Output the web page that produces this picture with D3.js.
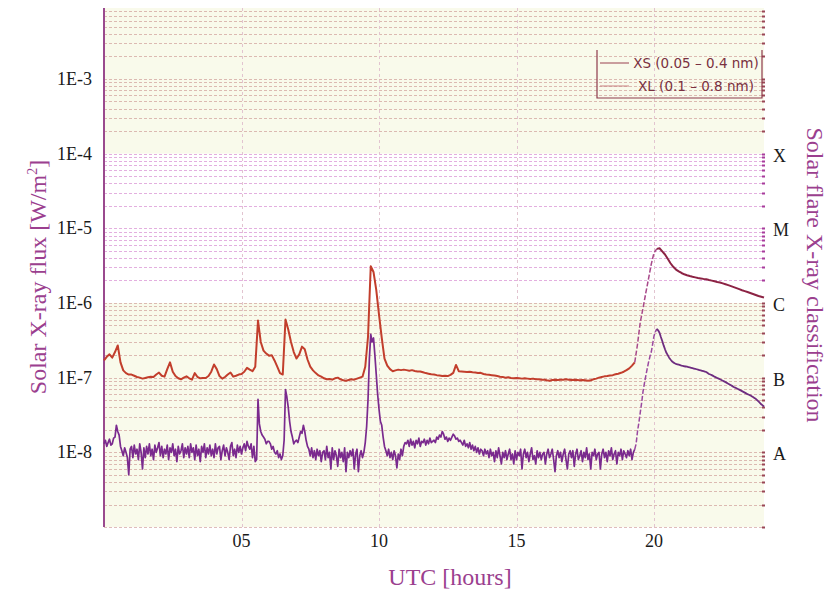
<!DOCTYPE html>
<html>
<head>
<meta charset="utf-8">
<script src="https://cdn.jsdelivr.net/npm/d3@7"></script>
<style>
  body { margin: 0; background: #fff; }
  svg { display: block; }
  .serif { font-family: "Liberation Serif", "Times New Roman", serif; }
</style>
</head>
<body>
<div id="chart"></div>
<script>
// flux in units of 1E-8 W/m2, sampled from 00 UTC
var fluxUnit = 1e-8;
var xsStep = 0.05; // hours
var xlStep = 0.1;  // hours

var xsFlux = [
    1.3, 1.45, 1.2, 1.35, 1.5, 1.25, 1.3, 1.55, 1.6, 2.3, 1.9, 1.7, 1.2, 1.05, 0.9, 1.15, 1.0, 0.85, 0.5, 1.1,
    1.2, 0.85, 1.25, 0.95, 1.1, 0.8, 1.3, 1.0, 0.6, 1.15, 0.85, 1.2, 0.95, 1.3, 0.9, 1.1, 0.8, 1.25, 1.0, 1.15,
    1.35, 0.9, 1.2, 0.85, 1.1, 0.95, 1.25, 0.8, 1.15, 1.0, 1.3, 0.9, 1.1, 0.75, 1.2, 0.95, 1.05, 1.3, 0.85, 1.15,
    0.95, 1.2, 0.85, 1.3, 1.0, 1.15, 0.8, 1.25, 0.9, 1.1, 0.75, 1.2, 1.0, 1.3, 0.85, 1.15, 0.95, 1.25, 0.9, 1.1,
    0.85, 1.3, 0.95, 1.15, 1.2, 0.8, 1.05, 1.25, 0.9, 1.15, 1.0, 0.8, 1.2, 1.35, 0.9, 1.1, 0.85, 1.25, 1.0, 1.2,
    0.95, 1.15, 1.3, 1.05, 1.4, 1.2, 1.1, 1.3, 0.85, 1.2, 0.75, 0.8, 5.1, 2.4, 1.9, 1.7, 1.6, 1.5, 1.3, 1.4,
    1.4, 1.3, 1.1, 1.2, 1.0, 0.95, 1.05, 0.85, 0.95, 0.8, 0.9, 1.45, 6.9, 5.5, 4.0, 2.6, 1.9, 1.6, 1.3, 1.4,
    1.45, 1.35, 1.6, 1.9, 1.8, 2.3, 1.9, 1.45, 1.2, 1.1, 0.9, 1.15, 0.85, 1.05, 0.8, 1.1, 0.9, 1.05, 0.75, 1.0,
    1.05, 0.8, 1.2, 0.85, 1.0, 0.6, 1.15, 0.8, 1.05, 0.9, 0.65, 1.1, 0.85, 1.0, 0.75, 1.15, 0.55, 1.0, 0.85, 1.05,
    0.9, 1.1, 0.6, 0.95, 1.1, 0.55, 0.9, 1.05, 0.85, 1.0, 1.35, 2.2, 5, 18, 38, 30, 34, 20, 11, 6,
    3.8, 2.6, 2.3, 1.6, 1.2, 1.05, 0.9, 1.1, 0.85, 1.0, 0.8, 1.05, 0.9, 0.62, 0.95, 0.8, 1.1, 0.9, 1.2, 1.35,
    1.3, 1.45, 1.2, 1.5, 1.25, 1.4, 1.15, 1.45, 1.3, 1.55, 1.2, 1.4, 1.35, 1.5, 1.25, 1.45, 1.3, 1.55, 1.35, 1.4,
    1.45, 1.35, 1.6, 1.5, 1.7, 1.6, 1.9, 1.75, 1.5, 1.6, 1.4, 1.55, 1.45, 1.6, 1.75, 1.65, 1.5, 1.55, 1.4, 1.45,
    1.35, 1.25, 1.45, 1.2, 1.3, 1.15, 1.35, 1.1, 1.25, 1.05, 1.2, 1.0, 1.15, 0.95, 1.1, 1.05, 0.9, 1.1, 0.95, 1.05,
    0.85, 1.1, 0.9, 1.0, 0.75, 1.05, 0.85, 1.15, 0.9, 0.7, 1.0, 0.85, 1.05, 0.8, 0.95, 1.1, 0.8, 0.95, 0.7, 1.05,
    0.8, 1.0, 0.9, 1.1, 0.6, 0.95, 1.1, 0.85, 1.0, 0.75, 0.95, 1.15, 0.8, 0.9, 0.7, 1.05, 0.85, 1.0, 0.8, 0.95,
    1.0, 0.7, 0.95, 1.1, 0.85, 0.95, 1.1, 0.8, 0.55, 0.9, 1.05, 0.85, 1.0, 0.75, 0.95, 1.1, 0.8, 0.6, 0.95, 1.05,
    0.85, 1.05, 0.65, 0.95, 1.1, 0.8, 0.9, 1.05, 0.75, 1.0, 0.85, 1.15, 0.8, 0.95, 0.6, 1.0, 0.9, 1.1, 0.8, 0.95,
    1.0, 0.6, 0.95, 1.1, 0.85, 1.0, 0.75, 1.05, 0.9, 1.15, 0.8, 0.95, 1.05, 0.7, 1.0, 0.9, 1.1, 0.8, 1.05, 0.95,
    0.85, 1.05, 0.9, 1.1, 0.8, 1.0, 1.1, 1.3, 1.9, 2.5, 3.4, 4.6, 6.5, 8.3, 10.5, 13, 16, 19, 22, 28,
    36, 41, 45, 43, 40, 35, 31, 27, 24, 21.5, 20, 18.5, 17.5, 16.6, 16, 15.6, 15.3, 15.1, 14.9, 14.7,
    14.5, 14.35, 14.2, 14.1, 14.0, 13.85, 13.7, 13.55, 13.4, 13.25, 13.1, 12.95, 12.8, 12.65, 12.5, 12.35, 12.2, 12.05, 11.9, 11.55,
    11.2, 11.0, 10.8, 10.55, 10.3, 10.1, 9.9, 9.7, 9.5, 9.3, 9.1, 8.9, 8.7, 8.5, 8.3, 8.1, 7.9, 7.7, 7.5, 7.35,
    7.2, 7.05, 6.9, 6.75, 6.6, 6.45, 6.3, 6.15, 6.0, 5.9, 5.8, 5.65, 5.5, 5.35, 5.2, 5.0, 4.8, 4.6, 4.4, 4.25,
    4.1
];

var xlFlux = [
    17, 19, 20.5, 18.5, 22, 27, 16, 12.5, 11.5, 11,
    11, 10.6, 10.2, 10, 9.7, 9.9, 10.1, 10.3, 10.2, 11,
    11.7, 10.6, 10.3, 13, 16, 12, 10.5, 9.8, 9.5, 10,
    10.4, 9.8, 9.4, 11.5, 10.2, 9.8, 9.9, 9.9, 10.5, 12,
    15, 13, 10.5, 9.7, 10.2, 11, 11.7, 10.3, 10.6, 11,
    11.2, 12, 13.5, 12.8, 12.2, 14, 58, 30, 23, 21,
    19.7, 20, 17, 14, 11.5, 11, 60, 44, 30, 22,
    18, 20.5, 26, 24, 17.5, 14, 12.5, 11.5, 10.7, 10.3,
    9.8, 9.5, 9.6, 9.4, 9.8, 10, 9.5, 9.2, 9.1, 9.3,
    9.5, 9.4, 9.7, 10, 10.3, 14, 35, 310, 260, 150,
    70, 34, 18, 14.5, 13, 12.2, 12.5, 12.8, 12.6, 12.8,
    12.6, 12.4, 12.6, 12.3, 12.1, 12.1, 11.8, 11.5, 11.3, 11.1,
    11, 10.8, 10.7, 10.5, 10.6, 10.5, 10.9, 11.6, 14.8, 12.2,
    12.1, 12, 11.9, 12, 11.8, 11.7, 11.5, 11.6, 11.2, 11,
    10.9, 10.8, 10.7, 10.5, 10.3, 10.2, 10, 10.1, 9.9, 9.8,
    9.9, 9.8, 9.7, 9.8, 9.7, 9.6, 9.7, 9.5, 9.5, 9.4,
    9.4, 9.2, 9.1, 9.3, 9.4, 9.3, 9.4, 9.4, 9.5, 9.4,
    9.3, 9.4, 9.3, 9.2, 9.3, 9.2, 9.1, 9.2, 9.5, 9.7,
    10, 10.2, 10.4, 10.5, 10.7, 10.8, 11.1, 11.3, 11.6, 12,
    12.6, 13.3, 14.5, 16, 28, 55, 85, 135, 210, 330,
    470, 530, 540, 490, 445, 390, 340, 305, 280, 265,
    252, 242, 235, 229, 224, 220, 216, 213, 210, 208,
    203, 199, 195, 191, 188, 183, 178, 173, 168, 163,
    158, 153, 148, 144, 140, 136, 132, 128, 124, 121,
    118
];

var hourTicks = [5, 10, 15, 20];
var hourLabels = ["05", "10", "15", "20"];
var fluxTicks = [1e-3, 1e-4, 1e-5, 1e-6, 1e-7, 1e-8];
var fluxLabels = ["1E-3", "1E-4", "1E-5", "1E-6", "1E-7", "1E-8"];
var classTicks = [1e-4, 1e-5, 1e-6, 1e-7, 1e-8];
var classLabels = ["X", "M", "C", "B", "A"];
var seriesNames = ["XS (0.05 \u2013 0.4 nm)", "XL (0.1 \u2013 0.8 nm)"];
var whiteBand = [1e-6, 1e-4];
var flareRise = [19.3, 20.1];

var width = 837,
    height = 592,
    plot = {left: 104, right: 764, top: 8, bottom: 527};

var x = d3.scaleLinear().domain([0, 24]).range([plot.left, plot.right]);
var y = d3.scaleLog().domain([1e-9, 8.9e-3]).range([plot.bottom, plot.top]);

var svg = d3.select("#chart")
    .append("svg")
    .attr("width", width)
    .attr("height", height);

// background bands
svg.append("rect")
    .attr("x", plot.left).attr("y", plot.top)
    .attr("width", plot.right - plot.left)
    .attr("height", plot.bottom - plot.top)
    .attr("fill", "#f9faeb");
svg.append("rect")
    .attr("x", plot.left).attr("y", y(whiteBand[1]))
    .attr("width", plot.right - plot.left)
    .attr("height", y(whiteBand[0]) - y(whiteBand[1]))
    .attr("fill", "#ffffff");

// log grid
var inWhite = function(v) { return v > whiteBand[0] * 1.001 && v < whiteBand[1] * 1.001; };
svg.append("g")
    .selectAll("line")
    .data(y.ticks())
    .enter()
    .append("line")
    .attr("x1", plot.left).attr("x2", plot.right)
    .attr("y1", function(d) { return Math.round(y(d)) + 0.5; })
    .attr("y2", function(d) { return Math.round(y(d)) + 0.5; })
    .attr("stroke", function(d) { return inWhite(d) ? "#c860c0" : "#c07a7a"; })
    .attr("stroke-opacity", 0.5)
    .attr("stroke-dasharray", "3,2");

// right edge tick dots
svg.append("g")
    .selectAll("rect")
    .data(y.ticks())
    .enter()
    .append("rect")
    .attr("x", plot.right - 2)
    .attr("y", function(d) { return Math.round(y(d)) - 0.5; })
    .attr("width", 3).attr("height", 2)
    .attr("fill", function(d) { return inWhite(d) ? "#a83c9c" : "#9a4656"; });

svg.append("g")
    .selectAll("line")
    .data(hourTicks)
    .enter()
    .append("line")
    .attr("x1", function(d) { return Math.round(x(d)) + 0.5; })
    .attr("x2", function(d) { return Math.round(x(d)) + 0.5; })
    .attr("y1", plot.top).attr("y2", plot.bottom)
    .attr("stroke", "#e2c4d0")
    .attr("stroke-dasharray", "3,3");

// left axis line
svg.append("line")
    .attr("x1", plot.left).attr("x2", plot.left)
    .attr("y1", plot.top).attr("y2", plot.bottom)
    .attr("stroke", "#9a4a8e")
    .attr("stroke-width", 2);

// data
function points(values, step) {
    return values.map(function(v, i) { return {t: i * step, v: v * fluxUnit}; });
}
function part(data, t0, t1) {
    return data.filter(function(d) { return d.t >= t0 - 1e-6 && d.t <= t1 + 1e-6; });
}
var line = d3.line()
    .x(function(d) { return x(d.t); })
    .y(function(d) { return y(d.v); });

var xs = points(xsFlux, xsStep),
    xl = points(xlFlux, xlStep);

var parts = [
    {data: part(xs, 0, flareRise[0]), color: "#7a2a8e", w: 1.7, dash: null},
    {data: part(xs, flareRise[0], flareRise[1]), color: "#9a48a0", w: 1.5, dash: "5,2"},
    {data: part(xs, flareRise[1], 24), color: "#6e2c80", w: 1.8, dash: null},
    {data: part(xl, 0, flareRise[0]), color: "#c23e2c", w: 2, dash: null},
    {data: part(xl, flareRise[0], flareRise[1]), color: "#a8488a", w: 1.5, dash: "5,2"},
    {data: part(xl, flareRise[1], 24), color: "#8c2344", w: 2, dash: null}
];

svg.append("g")
    .selectAll("path")
    .data(parts)
    .enter()
    .append("path")
    .attr("d", function(d) { return line(d.data); })
    .attr("fill", "none")
    .attr("stroke", function(d) { return d.color; })
    .attr("stroke-width", function(d) { return d.w; })
    .attr("stroke-dasharray", function(d) { return d.dash; })
    .attr("stroke-linejoin", "round");

// tick labels
svg.append("g")
    .selectAll("text")
    .data(fluxTicks)
    .enter()
    .append("text")
    .attr("class", "serif")
    .attr("x", 92)
    .attr("y", function(d) { return y(d) + 6; })
    .attr("text-anchor", "end")
    .attr("font-size", 18)
    .attr("fill", "#1a1a1a")
    .text(function(d, i) { return fluxLabels[i]; });

svg.append("g")
    .selectAll("text")
    .data(hourTicks)
    .enter()
    .append("text")
    .attr("class", "serif")
    .attr("x", function(d) { return x(d); })
    .attr("y", 547)
    .attr("text-anchor", "middle")
    .attr("font-size", 18)
    .attr("fill", "#1a1a1a")
    .text(function(d, i) { return hourLabels[i]; });

svg.append("g")
    .selectAll("text")
    .data(classTicks)
    .enter()
    .append("text")
    .attr("class", "serif")
    .attr("x", 773)
    .attr("y", function(d) { return y(d) + 8; })
    .attr("font-size", 18)
    .attr("fill", "#1a1a1a")
    .text(function(d, i) { return classLabels[i]; });

// axis titles
var yTitle = svg.append("text")
    .attr("class", "serif")
    .attr("transform", "translate(46,277) rotate(-90)")
    .attr("text-anchor", "middle")
    .attr("font-size", 24)
    .attr("fill", "#9b3f8f");
yTitle.append("tspan").text("Solar X-ray flux [W/m");
yTitle.append("tspan").attr("font-size", 14).attr("dy", -9).text("2");
yTitle.append("tspan").attr("dy", 9).text("]");

svg.append("text")
    .attr("class", "serif")
    .attr("transform", "translate(807,275) rotate(90)")
    .attr("text-anchor", "middle")
    .attr("font-size", 24)
    .attr("fill", "#9b3f8f")
    .text("Solar flare X-ray classification");

svg.append("text")
    .attr("class", "serif")
    .attr("x", 450)
    .attr("y", 585)
    .attr("text-anchor", "middle")
    .attr("font-size", 24)
    .attr("fill", "#9b3f8f")
    .text("UTC [hours]");

// legend
var legend = svg.append("g");
legend.append("path")
    .attr("d", "M597,50V98H762V50")
    .attr("fill", "none")
    .attr("stroke", "#8e3a4c")
    .attr("stroke-width", 1.2);
var legendColors = ["#9a4050", "#c88080"];
seriesNames.forEach(function(name, i) {
    var ly = 63 + i * 23;
    legend.append("line")
        .attr("x1", 600).attr("x2", 629)
        .attr("y1", ly).attr("y2", ly)
        .attr("stroke", legendColors[i]);
    legend.append("text")
        .attr("x", 696)
        .attr("y", ly + 5)
        .attr("text-anchor", "middle")
        .attr("font-family", "DejaVu Sans, sans-serif")
        .attr("font-size", 13.5)
        .attr("fill", "#7a3040")
        .text(name);
});
</script>
</body>
</html>
